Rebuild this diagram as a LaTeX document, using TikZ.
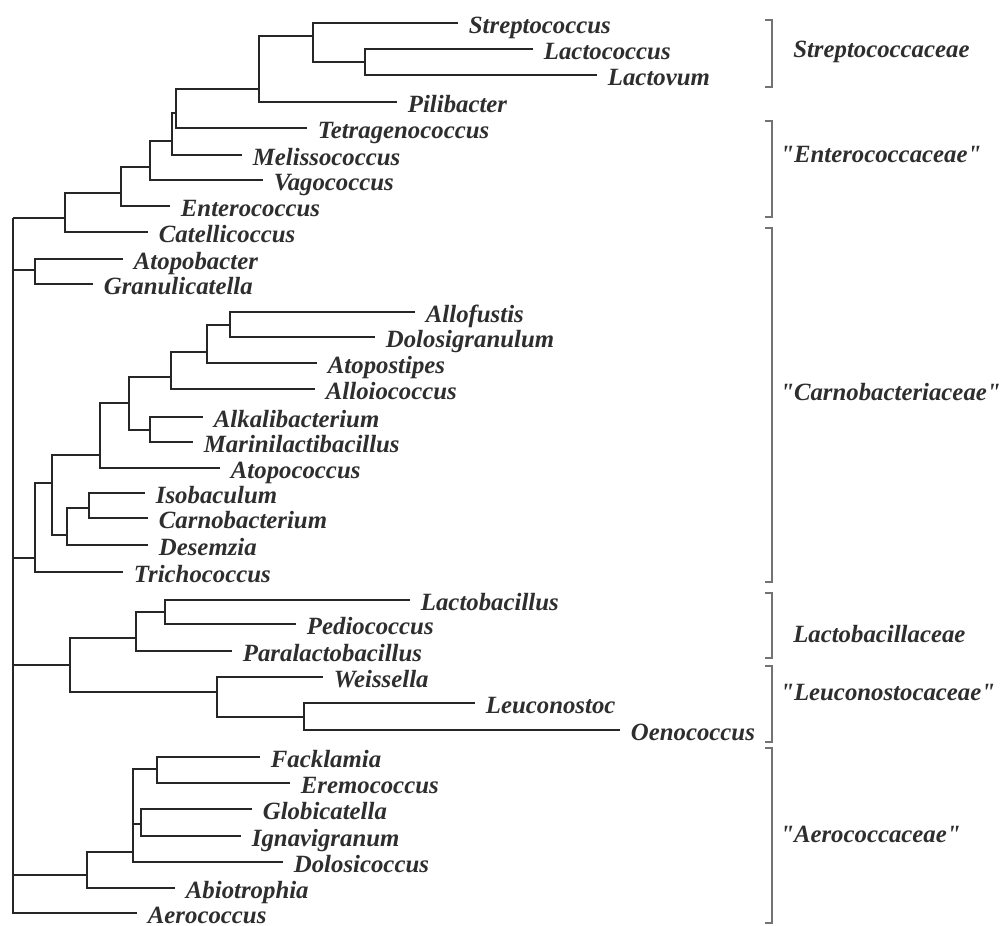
\documentclass[tikz,border=0pt]{standalone}
\usepackage{fontspec}
\setmainfont{Liberation Serif}
\newfontfamily\famfont{Liberation Serif}[Ligatures=TeXOff]
\usepackage{tikz}
\begin{document}
\begin{tikzpicture}[x=0.75pt,y=0.75pt,yscale=-1,xscale=1,
    branch/.style={line width=1.8pt, color=black!85, line join=miter},
    leaf/.style={anchor=west, inner xsep=8pt, inner ysep=0pt, text height=16pt, text depth=0pt,
        font=\fontsize{18.6}{20}\selectfont\bfseries\itshape, text=black!82},
    family/.style={leaf, inner xsep=0pt, font=\famfont\fontsize{18.6}{20}\selectfont\bfseries\itshape},
    bracket/.style={line width=1.1pt, color=black!55}]
\useasboundingbox (0,0) rectangle (1002,925);

%Inner nodes [Streptococcaceae / Enterococcaceae]
\coordinate (root) at (13,218);
\coordinate (nA) at (65,218);
\coordinate (nB) at (121,193);
\coordinate (nC) at (150,167);
\coordinate (nD) at (172,141);
\coordinate (nE) at (176,113);
\coordinate (nF) at (259,89);
\coordinate (nG) at (313,36);
\coordinate (nH) at (365,62);
%Inner nodes [Carnobacteriaceae]
\coordinate (nAG) at (35,270);
\coordinate (c10) at (35,558);
\coordinate (c7) at (52,483);
\coordinate (c6) at (100,455);
\coordinate (c4) at (129,403);
\coordinate (c3) at (171,377);
\coordinate (c2) at (207,352);
\coordinate (c1) at (230,325);
\coordinate (c5) at (150,430);
\coordinate (c9) at (67,535);
\coordinate (c8) at (89,508);
%Inner nodes [Lactobacillaceae / Leuconostocaceae]
\coordinate (l3) at (70,665);
\coordinate (l2) at (136,638);
\coordinate (l1) at (165,612);
\coordinate (w1) at (217,692);
\coordinate (o1) at (304,717);
%Inner nodes [Aerococcaceae]
\coordinate (a2) at (87,875);
\coordinate (a3) at (133,852);
\coordinate (fe) at (157,769);
\coordinate (gi) at (141,824);

% Text Node
\node[leaf] (strep) at (458,23) {Streptococcus};
\node[leaf] (lactoc) at (533,49) {Lactococcus};
\node[leaf] (lactov) at (597,75) {Lactovum};
\node[leaf] (pili) at (397,102) {Pilibacter};
\node[leaf] (tetra) at (307,128) {Tetragenococcus};
\node[leaf] (meliss) at (242,155) {Melissococcus};
\node[leaf] (vago) at (263,180) {Vagococcus};
\node[leaf] (entero) at (170,206) {Enterococcus};
\node[leaf] (catel) at (148,232) {Catellicoccus};
\node[leaf] (atopob) at (123,259) {Atopobacter};
\node[leaf] (granu) at (93,284) {Granulicatella};
\node[leaf] (allof) at (415,312) {Allofustis};
\node[leaf] (dolosig) at (375,337) {Dolosigranulum};
\node[leaf] (atopost) at (317,363) {Atopostipes};
\node[leaf] (alloio) at (315,389) {Alloiococcus};
\node[leaf] (alkali) at (203,417) {Alkalibacterium};
\node[leaf] (marini) at (193,442) {Marinilactibacillus};
\node[leaf] (atopoc) at (220,468) {Atopococcus};
\node[leaf] (isobac) at (145,493) {Isobaculum};
\node[leaf] (carnob) at (148,518) {Carnobacterium};
\node[leaf] (desem) at (148,545) {Desemzia};
\node[leaf] (tricho) at (123,572) {Trichococcus};
\node[leaf] (lactob) at (410,600) {Lactobacillus};
\node[leaf] (pedio) at (296,624) {Pediococcus};
\node[leaf] (paralac) at (232,651) {Paralactobacillus};
\node[leaf] (weiss) at (323,677) {Weissella};
\node[leaf] (leucon) at (475,703) {Leuconostoc};
\node[leaf] (oeno) at (620,730) {Oenococcus};
\node[leaf] (fackl) at (260,757) {Facklamia};
\node[leaf] (eremo) at (290,783) {Eremococcus};
\node[leaf] (globi) at (252,809) {Globicatella};
\node[leaf] (ignav) at (241,836) {Ignavigranum};
\node[leaf] (dolosic) at (283,862) {Dolosicoccus};
\node[leaf] (abio) at (175,888) {Abiotrophia};
\node[leaf] (aero) at (137,913) {Aerococcus};

%Branches
\foreach \p/\c in {root/nA, root/nAG, root/c10, root/l3, root/a2, root/aero.west,
    nA/nB, nA/catel.west, nB/nC, nB/entero.west, nC/nD, nC/vago.west,
    nD/nE, nD/meliss.west, nE/nF, nE/tetra.west, nF/nG, nF/pili.west,
    nG/strep.west, nG/nH, nH/lactoc.west, nH/lactov.west,
    nAG/atopob.west, nAG/granu.west,
    c10/c7, c10/tricho.west, c7/c6, c7/c9, c6/c4, c6/atopoc.west,
    c4/c3, c4/c5, c3/c2, c3/alloio.west, c2/c1, c2/atopost.west,
    c1/allof.west, c1/dolosig.west, c5/alkali.west, c5/marini.west,
    c9/c8, c9/desem.west, c8/isobac.west, c8/carnob.west,
    l3/l2, l3/w1, l2/l1, l2/paralac.west, l1/lactob.west, l1/pedio.west,
    w1/weiss.west, w1/o1, o1/leucon.west, o1/oeno.west,
    a2/a3, a2/abio.west, a3/fe, a3/gi, a3/dolosic.west,
    fe/fackl.west, fe/eremo.west, gi/globi.west, gi/ignav.west}
  \draw[branch] (\p) |- (\c);

%Brackets
\foreach \t/\b in {20/87, 121/217, 228/582, 593/658, 666/742, 748/923}
  \draw[bracket] (765,\t) -| (772,\b) -- (765,\b);

% Text Node
\node[family] (fStrep) at (793,47) {Streptococcaceae};
\node[family] (fEntero) at (780,152) {"Enterococcaceae"};
\node[family] (fCarno) at (780,390) {"Carnobacteriaceae"};
\node[family] (fLacto) at (793,632) {Lactobacillaceae};
\node[family] (fLeuco) at (780,690) {"Leuconostocaceae"};
\node[family] (fAero) at (780,832) {"Aerococcaceae"};
\end{tikzpicture}
\end{document}
